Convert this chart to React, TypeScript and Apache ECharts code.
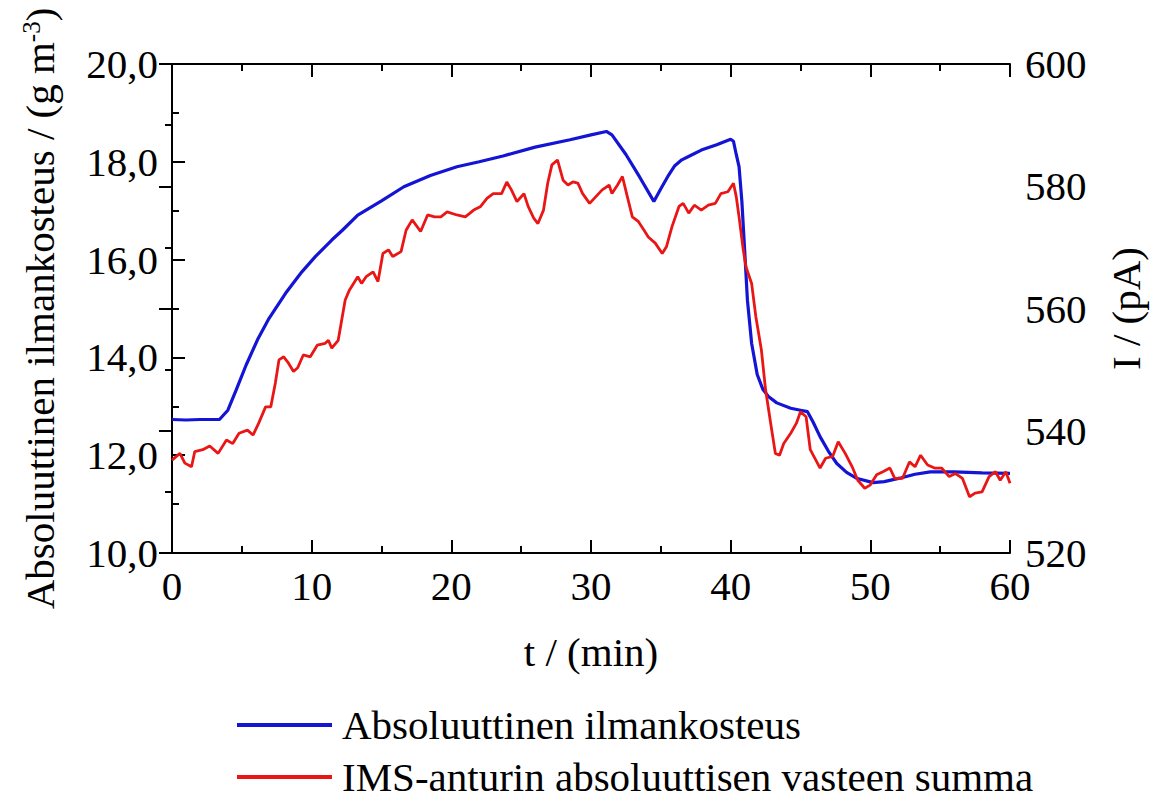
import React, { useEffect, useRef } from "react";
import * as echarts from "echarts";

// Absolute humidity (g m^-3), left axis
const humidityTime = [
  0, 1, 2, 3, 3.4, 4.0, 4.59, 5.3, 6.12, 6.95, 8.13, 9.3, 10.26, 11.44, 12.2,
  13.3, 15.0, 16.6, 18.5, 20.4, 22.0, 23.7, 26.0, 28.5, 30.0, 31.1, 31.5, 32.5,
  33.5, 34.5, 35.0, 35.5, 36.0, 36.5, 37.2, 37.9, 39.0, 40.0, 40.2, 40.4, 40.6,
  40.8, 41.0, 41.2, 41.5, 41.9, 42.3, 42.7, 43.3, 44.3, 45.0, 45.5, 45.9, 46.4,
  47.0, 47.6, 48.3, 49.0, 50.2, 51.0, 52.1, 53.2, 54.3, 56.0, 58.0, 60,
];
const humidityValue = [
  12.73, 12.72, 12.73, 12.73, 12.73, 12.92, 13.33, 13.84, 14.36, 14.8, 15.31,
  15.75, 16.06, 16.4, 16.6, 16.91, 17.2, 17.49, 17.72, 17.9, 18.0, 18.12, 18.3,
  18.45, 18.55, 18.62, 18.55, 18.15, 17.68, 17.19, 17.45, 17.7, 17.92, 18.04,
  18.14, 18.24, 18.35, 18.46, 18.42, 18.15, 17.9, 17.2, 16.2, 15.17, 14.29,
  13.65, 13.35, 13.2, 13.07, 12.96, 12.92, 12.89, 12.68, 12.38, 12.08, 11.83,
  11.65, 11.53, 11.44, 11.46, 11.53, 11.61, 11.66, 11.66, 11.64, 11.63,
];

// Summed absolute IMS sensor response (pA), right axis
const imsTime = [
  0.0, 0.57, 0.92, 1.4, 1.63, 2.2, 2.7, 3.3, 3.9, 4.35, 4.8, 5.4, 5.8, 6.2, 6.7,
  7.07, 7.4, 7.66, 8.0, 8.3, 8.7, 9.0, 9.4, 9.9, 10.4, 10.97, 11.2, 11.44, 11.9,
  12.4, 12.7, 13.3, 13.57, 13.9, 14.4, 14.75, 15.1, 15.5, 15.8, 16.4, 16.76,
  17.2, 17.8, 18.3, 18.8, 19.25, 19.7, 20.4, 21.0, 21.6, 22.1, 22.55, 23.0,
  23.6, 23.97, 24.3, 24.7, 25.2, 25.5, 25.9, 26.2, 26.6, 26.9, 27.2, 27.6, 28.0,
  28.35, 28.7, 29.06, 29.4, 29.9, 30.35, 30.8, 31.3, 31.5, 31.9, 32.25, 32.6,
  32.96, 33.4, 33.8, 34.1, 34.6, 35.1, 35.4, 35.8, 36.3, 36.6, 37.0, 37.4, 37.9,
  38.4, 38.9, 39.3, 39.8, 40.2, 40.4, 40.6, 40.9, 41.1, 41.5, 41.8, 42.2, 42.5,
  42.9, 43.2, 43.5, 43.8, 44.3, 44.7, 45.0, 45.4, 45.7, 46.1, 46.4, 46.8, 47.3,
  47.7, 48.2, 48.7, 49.1, 49.6, 49.98, 50.45, 50.9, 51.4, 51.75, 52.3, 52.8,
  53.2, 53.6, 54.1, 54.6, 55.1, 55.65, 56.1, 56.6, 57.1, 57.5, 58.0, 58.5,
  58.96, 59.3, 59.7, 60,
];
const imsValue = [
  535.2, 536.3, 534.7, 534.1, 536.6, 536.9, 537.5, 536.3, 538.5, 537.9, 539.6,
  540.1, 539.3, 541.2, 543.9, 543.9, 547.8, 551.6, 552.1, 551.2, 549.7, 550.3,
  552.4, 552.1, 554.0, 554.3, 554.8, 553.5, 554.8, 561.4, 563.0, 565.2, 564.1,
  565.2, 566.0, 564.4, 569.0, 569.6, 568.5, 569.3, 572.8, 574.5, 572.6, 575.3,
  575.0, 575.0, 575.8, 575.3, 575.0, 576.1, 576.7, 578.0, 578.8, 578.8, 580.7,
  579.4, 577.5, 578.8, 576.7, 574.8, 573.9, 576.1, 580.5, 583.5, 584.3, 581.0,
  580.2, 580.7, 580.5, 578.8, 577.2, 578.3, 579.4, 580.2, 578.8, 580.2, 581.6,
  578.3, 575.0, 574.2, 572.8, 571.7, 570.7, 569.0, 570.1, 573.4, 576.7, 577.2,
  575.6, 576.9, 576.1, 576.9, 577.2, 578.8, 579.1, 580.5, 578.3, 575.0, 569.6,
  566.8, 564.1, 558.7, 553.2, 546.7, 540.7, 536.3, 536.0, 537.9, 539.6, 541.2,
  543.1, 542.3, 536.9, 535.2, 533.9, 535.5, 535.8, 538.2, 536.3, 534.1, 531.9,
  530.6, 531.1, 532.8, 533.3, 533.9, 532.2, 532.2, 534.9, 534.1, 536.0, 534.4,
  533.9, 533.9, 532.5, 533.0, 532.2, 529.2, 529.8, 530.0, 532.5, 533.3, 531.9,
  533.3, 531.4,
];

const seriesNames = [
  "Absoluuttinen ilmankosteus",
  "IMS-anturin absoluuttisen vasteen summa",
];

const FONT = "'Liberation Serif', 'Times New Roman', serif";
const INK = "#000";
const FS = 41;

const tickCommon = {
  axisLine: { show: true, lineStyle: { color: INK, width: 2 } },
  axisTick: { show: true, inside: true, length: 13, lineStyle: { color: INK, width: 2 } },
  minorTick: { show: true, splitNumber: 2, length: 7, lineStyle: { color: INK, width: 2 } },
  splitLine: { show: false },
  minorSplitLine: { show: false },
};

const legendCommon = {
  orient: "vertical",
  left: 237,
  padding: 0,
  icon: "rect",
  itemWidth: 95,
  itemHeight: 4,
  itemGap: 0,
  textStyle: { fontFamily: FONT, fontSize: FS, lineHeight: 44, color: INK, padding: [0, 0, 0, 5] },
  selectedMode: false,
};

export default function App() {
  const ref = useRef<HTMLDivElement>(null);

  useEffect(() => {
    if (!ref.current) return;
    const chart = echarts.init(ref.current, undefined, { renderer: "svg" });

    const humidityData = humidityTime.map((t, i) => [t, humidityValue[i]]);
    const imsData = imsTime.map((t, i) => [t, imsValue[i]]);

    chart.setOption({
      animation: false,
      backgroundColor: "#fff",
      textStyle: { fontFamily: FONT, color: INK },
      grid: { left: 172, right: 136, top: 64, bottom: 250, containLabel: false },
      legend: [
        { ...legendCommon, data: [seriesNames[0]], top: 703 },
        { ...legendCommon, data: [seriesNames[1]], top: 755 },
      ],
      xAxis: [
        {
          type: "value",
          min: 0,
          max: 60,
          interval: 10,
          name: "t / (min)",
          nameLocation: "middle",
          nameGap: 78,
          nameTextStyle: { fontFamily: FONT, fontSize: FS, color: INK },
          axisLabel: { fontFamily: FONT, fontSize: FS, color: INK, margin: 12 },
          ...tickCommon,
        },
        {
          type: "value",
          position: "top",
          min: 0,
          max: 60,
          interval: 10,
          axisLabel: { show: false },
          ...tickCommon,
        },
      ],
      yAxis: [
        {
          type: "value",
          position: "left",
          min: 10,
          max: 20,
          interval: 2,
          name: "Absoluuttinen ilmankosteus / (g m{sup|-3})",
          nameLocation: "middle",
          nameRotate: 90,
          nameGap: 112,
          nameTextStyle: {
            fontFamily: FONT,
            fontSize: FS,
            color: INK,
            rich: {
              sup: { fontFamily: FONT, fontSize: 25, color: INK, verticalAlign: "top", padding: [0, 0, 14, 0] },
            },
          },
          axisLabel: {
            fontFamily: FONT,
            fontSize: FS,
            color: INK,
            margin: 14,
            formatter: (v: number) => v.toFixed(1).replace(".", ","),
          },
          ...tickCommon,
        },
        {
          type: "value",
          position: "right",
          min: 520,
          max: 600,
          interval: 20,
          name: "I / (pA)",
          nameLocation: "middle",
          nameRotate: 90,
          nameGap: 95,
          nameTextStyle: { fontFamily: FONT, fontSize: FS, color: INK },
          axisLabel: { fontFamily: FONT, fontSize: FS, color: INK, margin: 15 },
          ...tickCommon,
        },
      ],
      series: [
        {
          name: seriesNames[0],
          type: "line",
          xAxisIndex: 0,
          yAxisIndex: 0,
          data: humidityData,
          showSymbol: false,
          symbol: "none",
          color: "#1414d4",
          lineStyle: { color: "#1414d4", width: 3.2 },
          z: 3,
        },
        {
          name: seriesNames[1],
          type: "line",
          xAxisIndex: 0,
          yAxisIndex: 1,
          data: imsData,
          showSymbol: false,
          symbol: "none",
          color: "#ea1616",
          lineStyle: { color: "#ea1616", width: 2.8 },
          z: 4,
        },
      ],
    });

    return () => chart.dispose();
  }, []);

  return (
    <div
      ref={ref}
      style={{ position: "fixed", left: 0, top: 0, width: 1154, height: 803, background: "#fff" }}
    />
  );
}
